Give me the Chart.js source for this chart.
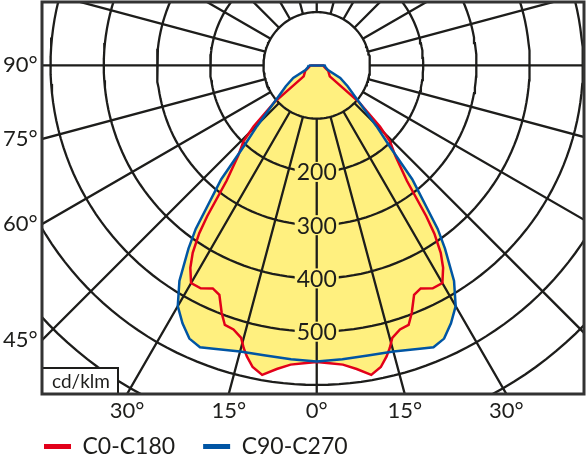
<!DOCTYPE html>
<html>
<head>
<meta charset="utf-8">
<script src="https://cdn.jsdelivr.net/npm/chart.js@4.4.1/dist/chart.umd.min.js"></script>
<style>
  html, body { margin: 0; padding: 0; background: #fff; }
</style>
</head>
<body>
<canvas id="polar" width="588" height="460"></canvas>
<script>
/* Polar light distribution curve, cd/klm against gamma (deg from nadir) */

var redAngles = [0, 2.5, 5, 7.5, 10, 12, 13.5, 14.5, 15.5, 17.5, 19.5, 21, 23, 25, 27.5, 30, 32, 33.5, 35, 36, 38, 41, 44, 46, 49, 50, 64, 80, 90];
var redValues = [557, 560, 564, 575, 590, 579, 562, 548, 531, 520, 517, 498, 468, 462, 472, 472, 448, 422, 385, 350, 275, 225, 198, 165, 105, 32, 24, 14, 12];

var blueAngles = [0, 5, 10, 15, 20, 22.5, 25, 27.5, 30, 32.5, 35, 36.5, 40, 42, 44.5, 47, 51, 56, 62, 67, 78, 90];
var blueValues = [556, 554, 553, 556, 566, 573, 566, 546, 522, 480, 420, 382, 279, 205, 160, 125, 92, 70, 50, 23, 17, 15];

var seriesLabels = ['C0-C180', 'C90-C270'];

var ringValues = [100, 200, 300, 400, 500, 600, 700, 800];
var ringLabelValues = [200, 300, 400, 500];
var rayAngles = [0, 15, 30, 45, 60, 75, 90, 105, 120, 135, 150, 165, 180, 195, 210, 225, 240, 255, 270, 285, 300, 315, 330, 345];
var leftTickAngles = [90, 75, 60, 45];
var bottomTickAngles = [-30, -15, 0, 15, 30];
var unitLabel = 'cd/klm';

var X_MIN = -516, X_MAX = 502, Y_MIN = -617, Y_MAX = 119;

var RED = '#e2001a';
var BLUE = '#0055a4';
var YELLOW = '#fff07f';
var INK = '#1d1d1b';
var FONT = 'Lato';
var DEG = Math.PI / 180;

function curvePoints(angles, values) {
  var pts = [];
  for (var i = angles.length - 1; i >= 0; i--) {
    pts.push({ x: -values[i] * Math.sin(angles[i] * DEG), y: -values[i] * Math.cos(angles[i] * DEG) });
  }
  for (var j = 1; j < angles.length; j++) {
    pts.push({ x: values[j] * Math.sin(angles[j] * DEG), y: -values[j] * Math.cos(angles[j] * DEG) });
  }
  pts.push(pts[0]);
  return pts;
}

function ringPoints() {
  var pts = [];
  ringValues.forEach(function(r) {
    for (var a = 0; a <= 360; a += 2) {
      pts.push({ x: r * Math.sin(a * DEG), y: -r * Math.cos(a * DEG) });
    }
    pts.push({ x: null, y: null });
  });
  return pts;
}

function rayPoints() {
  var inner = ringValues[0];
  var outer = ringValues[ringValues.length - 1] + 100;
  var pts = [];
  rayAngles.forEach(function(a) {
    pts.push({ x: inner * Math.sin(a * DEG), y: -inner * Math.cos(a * DEG) });
    pts.push({ x: outer * Math.sin(a * DEG), y: -outer * Math.cos(a * DEG) });
    pts.push({ x: null, y: null });
  });
  return pts;
}

function degLabel(a) { return Math.abs(a) + '\u00b0'; }

function noPadding(scale) {
  scale.paddingTop = 0;
  scale.paddingBottom = 0;
  scale.paddingLeft = 0;
  scale.paddingRight = 0;
}

var overlayPlugin = {
  id: 'overlay',
  afterDatasetsDraw: function(chart) {
    var ctx = chart.ctx;
    var xs = chart.scales.x, ys = chart.scales.y;
    var area = chart.chartArea;
    ctx.save();
    ctx.font = '23px ' + FONT;
    ctx.textAlign = 'center';
    ctx.textBaseline = 'middle';
    ringLabelValues.forEach(function(v) {
      var px = xs.getPixelForValue(0), py = ys.getPixelForValue(-v);
      var w = ctx.measureText(String(v)).width + 4;
      ctx.fillStyle = YELLOW;
      ctx.fillRect(px - w / 2, py - 10, w, 20);
      ctx.fillStyle = INK;
      ctx.fillText(String(v), px, py + 1);
    });
    // unit box
    ctx.fillStyle = '#fff';
    ctx.fillRect(area.left, area.bottom - 26, 76, 26);
    ctx.strokeStyle = INK;
    ctx.lineWidth = 2;
    ctx.strokeRect(area.left, area.bottom - 26, 76, 26);
    ctx.fillStyle = INK;
    ctx.font = '19px ' + FONT;
    ctx.fillText(unitLabel, area.left + 39, area.bottom - 12);
    // frame
    ctx.lineWidth = 3;
    ctx.strokeStyle = '#333';
    ctx.strokeRect(area.left, area.top, area.right - area.left, area.bottom - area.top);
    ctx.restore();
  }
};

function drawChart() {
  var ctx = document.getElementById('polar').getContext('2d');
  new Chart(ctx, {
    type: 'scatter',
    data: {
      datasets: [
        {
          label: seriesLabels[0],
          data: curvePoints(redAngles, redValues),
          showLine: true, borderColor: RED, borderWidth: 2.5,
          backgroundColor: YELLOW, fill: 'shape',
          pointRadius: 0, order: 2
        },
        {
          label: seriesLabels[1],
          data: curvePoints(blueAngles, blueValues),
          showLine: true, borderColor: BLUE, borderWidth: 2.5,
          backgroundColor: YELLOW, fill: 'shape',
          pointRadius: 0, order: 1
        },
        {
          label: 'rings', data: ringPoints(),
          showLine: true, borderColor: INK, borderWidth: 2.3,
          fill: false, pointRadius: 0, order: 5
        },
        {
          label: 'rays', data: rayPoints(),
          showLine: true, borderColor: INK, borderWidth: 2.3,
          fill: false, pointRadius: 0, order: 5
        }
      ]
    },
    options: {
      responsive: false,
      animation: false,
      devicePixelRatio: 1,
      layout: { padding: { left: 16, top: 2, right: 4, bottom: -8 } },
      scales: {
        x: {
          type: 'linear', min: X_MIN, max: X_MAX, bounds: 'data',
          grid: { display: false, drawTicks: false }, border: { display: false },
          afterBuildTicks: function(scale) {
            scale.ticks = bottomTickAngles.map(function(a) {
              return { value: -Y_MIN * Math.tan(a * DEG) };
            });
          },
          afterFit: function(scale) { scale.height = 13; noPadding(scale); },
          ticks: {
            autoSkip: false, maxRotation: 0, mirror: true, padding: -30,
            color: INK, font: { family: FONT, size: 22 },
            callback: function(value, index) { return degLabel(bottomTickAngles[index]); }
          }
        },
        y: {
          type: 'linear', min: Y_MIN, max: Y_MAX, bounds: 'data',
          grid: { display: false, drawTicks: false }, border: { display: false },
          afterBuildTicks: function(scale) {
            scale.ticks = leftTickAngles.map(function(a) {
              return { value: a === 90 ? 0 : X_MIN / Math.tan(a * DEG) };
            });
          },
          afterFit: function(scale) { scale.width = 26; noPadding(scale); },
          ticks: {
            autoSkip: false, mirror: true, padding: -39,
            color: INK, font: { family: FONT, size: 22 },
            callback: function(value, index) { return degLabel(leftTickAngles[index]); }
          }
        }
      },
      plugins: {
        filler: { drawTime: 'beforeDatasetsDraw' },
        tooltip: { enabled: false },
        legend: {
          position: 'bottom', align: 'start',
          labels: {
            color: INK, font: { family: FONT, size: 23 },
            boxWidth: 27, boxHeight: 5, padding: 28,
            generateLabels: function(chart) {
              return [0, 1].map(function(i) {
                var ds = chart.data.datasets[i];
                return { text: ds.label, fillStyle: ds.borderColor, strokeStyle: ds.borderColor,
                  lineWidth: 0, datasetIndex: i, fontColor: INK };
              });
            }
          }
        }
      }
    },
    plugins: [overlayPlugin]
  });
}

if (document.fonts && document.fonts.load) {
  document.fonts.load('23px ' + FONT).then(drawChart, drawChart);
} else {
  drawChart();
}
</script>
</body>
</html>
